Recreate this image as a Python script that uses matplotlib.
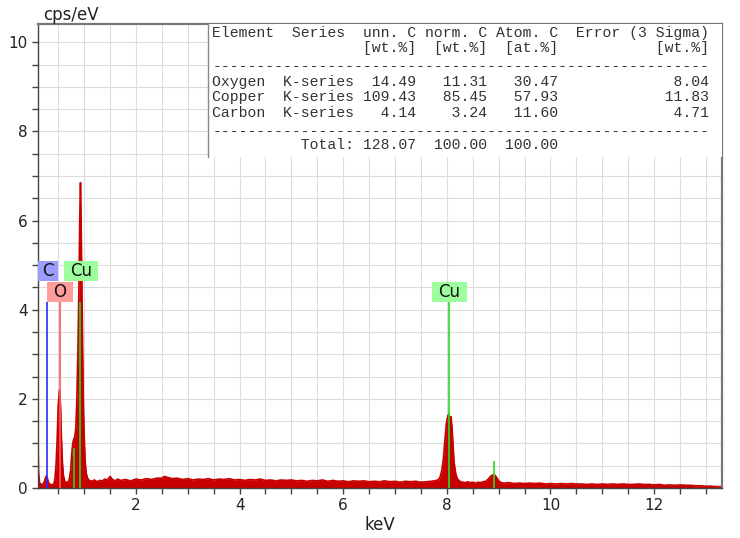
# EDS spectrum (cps/eV vs keV) with quantification table

import matplotlib.pyplot as plt
from matplotlib.patches import Rectangle
from matplotlib.ticker import MultipleLocator

# spectrum (keV, cps/eV)
energy = [
    0.11, 0.12, 0.14, 0.17, 0.20, 0.23, 0.25, 0.27, 0.29, 0.31, 0.34, 0.38,
    0.42, 0.44, 0.46, 0.48, 0.50, 0.525, 0.545, 0.56, 0.58, 0.60, 0.63, 0.67,
    0.71, 0.74, 0.76, 0.78, 0.80, 0.82, 0.84, 0.86, 0.88, 0.90, 0.915, 0.93,
    0.94, 0.955, 0.97, 0.985, 1.00, 1.02, 1.04, 1.07, 1.10,
    1.15, 1.20, 1.25, 1.30, 1.35, 1.40, 1.45, 1.50, 1.55, 1.60, 1.65, 1.70,
    1.80, 1.90, 2.00, 2.10, 2.20, 2.30, 2.40, 2.50, 2.55, 2.60, 2.70, 2.80,
    2.90, 3.00, 3.10, 3.20, 3.30, 3.40, 3.50, 3.60, 3.70, 3.80, 3.90, 4.00,
    4.10, 4.20, 4.30, 4.40, 4.50, 4.60, 4.70, 4.80, 4.90, 5.00, 5.10, 5.20,
    5.30, 5.40, 5.50, 5.60, 5.70, 5.80, 5.90, 6.00, 6.10, 6.20, 6.30, 6.40,
    6.50, 6.60, 6.70, 6.80, 6.90, 7.00, 7.10, 7.20, 7.30, 7.40, 7.50, 7.60,
    7.70, 7.80,
    7.84, 7.87, 7.90, 7.93, 7.96, 7.99, 8.02, 8.04, 8.06, 8.08, 8.10, 8.12,
    8.14, 8.17, 8.20, 8.25, 8.30,
    8.35, 8.40, 8.45, 8.50, 8.55, 8.60, 8.65, 8.70, 8.75,
    8.80, 8.84, 8.88, 8.91, 8.94, 8.97, 9.00, 9.05,
    9.10, 9.20, 9.30, 9.40, 9.50, 9.60, 9.70, 9.80, 9.90, 10.0, 10.1, 10.2,
    10.3, 10.4, 10.5, 10.6, 10.7, 10.8, 10.9, 11.0, 11.1, 11.2, 11.3, 11.4,
    11.5, 11.6, 11.7, 11.8, 11.9, 12.0, 12.1, 12.2, 12.3, 12.4, 12.5, 12.6,
    12.7, 12.8, 12.9, 13.0, 13.1, 13.2, 13.31,
]
counts = [
    1.10, 0.35, 0.12, 0.07, 0.09, 0.13, 0.21, 0.27, 0.23, 0.13, 0.08, 0.07,
    0.10, 0.25, 0.55, 1.10, 1.85, 2.20, 1.85, 1.20, 0.60, 0.28, 0.14, 0.12,
    0.17, 0.40, 0.75, 1.00, 1.10, 1.15, 1.35, 2.00, 3.10, 4.50, 6.00, 6.85,
    6.20, 4.70, 3.10, 1.90, 1.20, 0.60, 0.33, 0.21, 0.17,
    0.15, 0.18, 0.14, 0.17, 0.16, 0.20, 0.18, 0.26, 0.19, 0.16, 0.20, 0.17,
    0.19, 0.16, 0.20, 0.18, 0.21, 0.19, 0.22, 0.22, 0.26, 0.24, 0.21, 0.22,
    0.19, 0.21, 0.18, 0.20, 0.19, 0.21, 0.18, 0.20, 0.19, 0.21, 0.18, 0.19,
    0.17, 0.19, 0.18, 0.20, 0.17, 0.18, 0.16, 0.18, 0.17, 0.18, 0.16, 0.17,
    0.15, 0.17, 0.16, 0.18, 0.15, 0.17, 0.15, 0.16, 0.14, 0.16, 0.15, 0.16,
    0.14, 0.15, 0.14, 0.16, 0.14, 0.15, 0.13, 0.15, 0.14, 0.15, 0.13, 0.14,
    0.15, 0.17,
    0.19, 0.25, 0.38, 0.62, 1.05, 1.45, 1.62, 1.66, 1.55, 1.60, 1.35, 0.95,
    0.58, 0.33, 0.21, 0.15, 0.13,
    0.12, 0.14, 0.12, 0.13, 0.11, 0.13, 0.12, 0.14, 0.15,
    0.20, 0.26, 0.29, 0.30, 0.27, 0.22, 0.16, 0.12,
    0.11, 0.12, 0.10, 0.11, 0.10, 0.11, 0.10, 0.11, 0.09, 0.10, 0.09, 0.10,
    0.09, 0.10, 0.09, 0.09, 0.08, 0.09, 0.08, 0.09, 0.08, 0.09, 0.08, 0.09,
    0.08, 0.08, 0.09, 0.08, 0.08, 0.07, 0.08, 0.06, 0.07, 0.06, 0.07, 0.06,
    0.06, 0.05, 0.05, 0.04, 0.04, 0.03, 0.03,
]

# element marker lines
line_element = ['C', 'O', 'Cu', 'Cu', 'Cu', 'Cu']
line_energy = [0.277, 0.525, 0.811, 0.930, 8.048, 8.905]
line_height = [4.18, 4.18, 0.9, 4.18, 4.18, 0.61]

# element labels: (element, energy, row) - row 1 sits above row 0
label_element = ['C', 'Cu', 'O', 'Cu']
label_energy = [0.30, 0.94, 0.533, 8.05]
label_row = [1, 1, 0, 0]

# quantification table
tbl_element = ['Oxygen', 'Copper', 'Carbon']
tbl_series = ['K-series', 'K-series', 'K-series']
tbl_unn = ['14.49', '109.43', '4.14']
tbl_norm = ['11.31', '85.45', '3.24']
tbl_atom = ['30.47', '57.93', '11.60']
tbl_err = ['8.04', '11.83', '4.71']
tbl_total = ['128.07', '100.00', '100.00']

line_color = {'C': '#2a2aff', 'O': '#ff5a5a', 'Cu': '#22dd22'}
box_color = {'C': '#9c9cff', 'O': '#ff9c9c', 'Cu': '#9cff9c'}
box_halfw = {'C': 0.19, 'O': 0.245, 'Cu': 0.33}

fig = plt.figure(figsize=(7.4, 5.38), dpi=100)
ax = fig.add_axes([38 / 740, 50 / 538, 684 / 740, 464 / 538])

ax.set_xlim(0.11, 13.31)
ax.set_ylim(0, 10.41)
ax.xaxis.set_major_locator(MultipleLocator(2))
ax.xaxis.set_minor_locator(MultipleLocator(0.5))
ax.yaxis.set_major_locator(MultipleLocator(2))
ax.yaxis.set_minor_locator(MultipleLocator(0.5))
ax.grid(which='both', color='#dcdcdc', lw=0.8, zorder=0)
ax.set_axisbelow(True)
ax.tick_params(which='both', direction='out', length=4, width=1,
               color='#444444', labelsize=11, labelcolor='#222222')

for side in ['left', 'bottom']:
    ax.spines[side].set_color('#444444')
    ax.spines[side].set_linewidth(1.0)
for side in ['top', 'right']:
    ax.spines[side].set_color('#777777')
    ax.spines[side].set_linewidth(1.6)

# spectrum
ax.fill_between(energy, counts, 0, color='#c80000', lw=0, zorder=2)
ax.plot(energy, counts, color='#c80000', lw=1.2, zorder=2)

# element lines
for el, e, h in zip(line_element, line_energy, line_height):
    ax.vlines(e, 0, h, color=line_color[el], lw=1.2, zorder=3)

# element labels
for el, e, r in zip(label_element, label_energy, label_row):
    y0 = 4.18 + r * 0.47
    ax.add_patch(Rectangle((e - box_halfw[el], y0), 2 * box_halfw[el], 0.45,
                           facecolor=box_color[el], edgecolor='none', zorder=4,
                           clip_on=False))
    ax.text(e, y0 + 0.225, el, ha='center', va='center', fontsize=12,
            color='#111111', zorder=5)

# white table panel in the top right corner
x_left = (208 - 38) / 684
y_bot = (488 - 157) / 464
ax.add_patch(Rectangle((x_left, y_bot), 1 - x_left, 1 - y_bot,
                       transform=ax.transAxes, facecolor='white',
                       edgecolor='none', zorder=6))
ax.plot([x_left, x_left], [y_bot, 1], transform=ax.transAxes,
        color='#888888', lw=1, zorder=7)

rows = [
    'Element  Series  unn. C norm. C Atom. C  Error (3 Sigma)',
    ' ' * 17 + '[wt.%]  [wt.%]  [at.%]' + ' ' * 11 + '[wt.%]',
    '-' * 56,
]
for i in range(len(tbl_element)):
    rows.append(f'{tbl_element[i]:<8}{tbl_series[i]:<9}{tbl_unn[i]:>6} '
                f'{tbl_norm[i]:>7} {tbl_atom[i]:>7}{tbl_err[i]:>17}')
rows.append('-' * 56)
rows.append(' ' * 10 + 'Total: ' + f'{tbl_total[0]:>6} {tbl_total[1]:>7} {tbl_total[2]:>7}')
baselines = [37, 52, 70, 86, 101, 117, 135, 149]
for txt, b in zip(rows, baselines):
    fig.text(212.5 / 740, 1 - b / 538, txt, family='Liberation Mono',
             fontsize=10.6, color='#333333', va='baseline', ha='left',
             zorder=10)

fig.text(43 / 740, 1 - 20 / 538, 'cps/eV', fontsize=12, color='#222222',
         va='baseline')
ax.set_xlabel('keV', fontsize=12, color='#222222', labelpad=2)

fig.savefig('out.png', dpi=100)
